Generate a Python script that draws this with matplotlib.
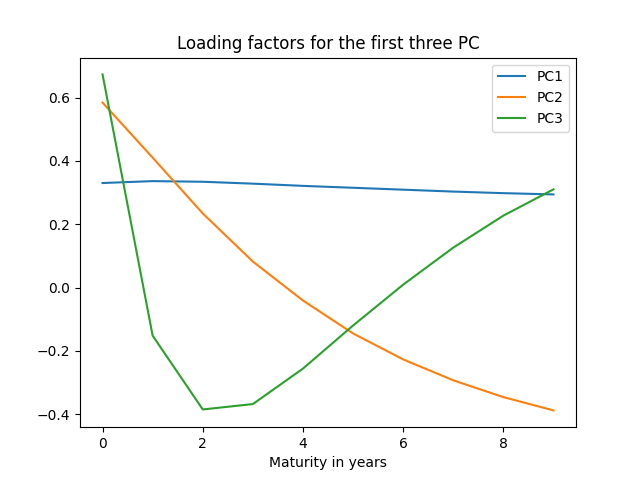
import matplotlib
matplotlib.use("Agg")
import matplotlib.pyplot as plt

maturity = list(range(10))
pc1 = [0.330, 0.336, 0.334, 0.328, 0.321, 0.315, 0.309, 0.303, 0.298, 0.294]
pc2 = [0.584, 0.410, 0.234, 0.082, -0.041, -0.145, -0.227, -0.293, -0.346, -0.388]
pc3 = [0.673, -0.152, -0.385, -0.368, -0.256, -0.120, 0.009, 0.126, 0.227, 0.310]
labels = ["PC1", "PC2", "PC3"]

fig, ax = plt.subplots(figsize=(6.4, 4.8), dpi=100)
for s, lab in zip([pc1, pc2, pc3], labels):
    ax.plot(maturity, s, label=lab)
ax.set_title("Loading factors for the first three PC")
ax.set_xlabel("Maturity in years")
ax.legend()
fig.savefig("out.png")
